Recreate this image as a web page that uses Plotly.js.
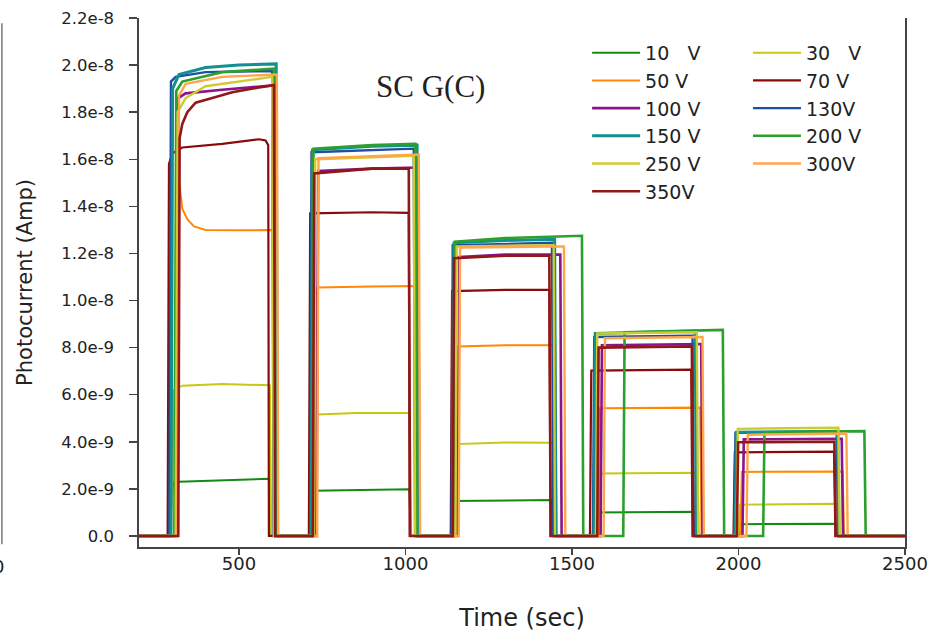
<!DOCTYPE html>
<html><head><meta charset="utf-8">
<script src="https://cdn.plot.ly/plotly-3.0.1.min.js"></script>
<style>html,body{margin:0;padding:0;background:#fff}#chart{width:930px;height:632px}</style>
</head><body><div id="chart"></div>
<script>
// Time (s) and photocurrent (nA, tick labels shown in Amp)
const t10 = [200,290,302,320,590,593, 718,722,1012,1016, 1140,1144,1440,1444, 1562,1566,1872,1876, 2003,2007,2298,2302, 2500];
const y10 = [0,0,2.25,2.3,2.43,0, 0,1.92,1.98,0, 0,1.48,1.53,0, 0,1.0,1.03,0, 0,0.5,0.52,0, 0];
const t30 = [200,296,305,330,450,593,597, 715,719,850,1013,1017, 1146,1150,1300,1443,1447, 1568,1572,1877,1881, 2000,2004,2297,2301, 2500];
const y30 = [0,0,6.2,6.38,6.45,6.4,0, 0,5.15,5.22,5.22,0, 0,3.9,3.97,3.96,0, 0,2.65,2.68,0, 0,1.33,1.37,0, 0];
const t50 = [200,310,316,322,330,345,365,400,500,612,616, 730,734,900,1033,1037, 1152,1156,1300,1450,1454, 1580,1584,1885,1889, 2006,2010,2313,2317, 2500];
const y50 = [0,0,15.6,14.8,13.9,13.45,13.15,13.0,12.98,13.0,0, 0,10.55,10.6,10.62,0, 0,8.05,8.1,8.1,0, 0,5.42,5.45,0, 0,2.72,2.74,0, 0];
const t70 = [200,286,290,300,330,450,560,580,588,590, 710,714,900,1010,1013, 1136,1140,1300,1432,1436, 1554,1558,1858,1862, 1985,1989,2287,2291, 2500];
const y70 = [0,0,15.8,16.25,16.5,16.65,16.85,16.8,16.6,0, 0,13.7,13.75,13.72,0, 0,10.4,10.45,10.45,0, 0,7.02,7.06,0, 0,3.55,3.58,0, 0];
const t100 = [200,312,318,340,450,560,610,614, 733,738,900,1038,1042, 1157,1162,1300,1465,1469, 1586,1590,1888,1892, 2012,2016,2310,2314, 2500];
const y100 = [0,0,18.6,18.8,18.95,19.1,19.15,0, 0,15.5,15.6,15.65,0, 0,11.85,11.95,11.95,0, 0,8.1,8.15,0, 0,4.1,4.13,0, 0];
const t130 = [200,291,296,310,400,600,604, 714,718,900,1025,1029, 1138,1142,1300,1440,1444, 1563,1567,1862,1866, 1987,1991,2295,2299, 2500];
const y130 = [0,0,19.3,19.5,19.7,19.75,0, 0,16.3,16.4,16.45,0, 0,12.35,12.4,12.45,0, 0,8.45,8.5,0, 0,4.38,4.4,0, 0];
const t150 = [200,296,301,320,400,500,612,616, 717,721,900,1035,1039, 1142,1146,1300,1448,1452, 1566,1570,1870,1874, 1990,1994,2298,2302, 2500];
const y150 = [0,0,19.0,19.6,19.9,20.0,20.05,0, 0,16.4,16.55,16.6,0, 0,12.45,12.55,12.6,0, 0,8.6,8.7,0, 0,4.4,4.45,0, 0];
const t200 = [200,306,312,330,450,605,609, 720,724,900,1030,1034, 1145,1149,1300,1530,1534, 1654,1658,1800,1953,1957, 2074,2078,2378,2382, 2500];
const y200 = [0,0,18.9,19.3,19.7,19.85,0, 0,16.45,16.6,16.65,0, 0,12.5,12.65,12.75,0, 0,8.65,8.7,8.75,0, 0,4.4,4.45,0, 0];
const t250 = [200,310,316,340,400,500,600,605, 725,729,1025,1029, 1150,1154,1445,1449, 1572,1576,1875,1879, 1994,1998,2300,2304, 2500];
const y250 = [0,0,18.0,18.6,19.1,19.3,19.5,0, 0,16.0,16.15,0, 0,12.3,12.35,0, 0,8.6,8.65,0, 0,4.55,4.6,0, 0];
const t300 = [200,314,320,340,450,600,614,618, 735,739,1040,1044, 1160,1164,1476,1480, 1595,1599,1892,1896, 2024,2028,2324,2328, 2500];
const y300 = [0,0,18.7,19.2,19.5,19.6,19.6,0, 0,16.05,16.2,0, 0,12.25,12.3,0, 0,8.4,8.45,0, 0,4.3,4.35,0, 0];
const t350 = [200,318,322,330,345,370,420,480,560,605,609, 722,726,900,1010,1014, 1142,1146,1300,1432,1436, 1576,1580,1860,1864, 1995,1999,2288,2292, 2500];
const y350 = [0,0,16.9,17.5,18.0,18.4,18.6,18.85,19.05,19.15,0, 0,15.4,15.6,15.6,0, 0,11.8,11.9,11.9,0, 0,8.0,8.05,0, 0,3.98,4.0,0, 0];

const seriesNames = ['10\u00a0\u00a0\u00a0V','30\u00a0\u00a0\u00a0V','50 V','70 V','100 V','130V','150 V','200 V','250 V','300V','350V'];
const seriesT = [t10,t30,t50,t70,t100,t130,t150,t200,t250,t300,t350];
const seriesY = [y10,y30,y50,y70,y100,y130,y150,y200,y250,y300,y350];
const seriesColors = ['#148a14','#c8c814','#ff8a00','#8a0a0a','#8a148a','#1f4fa0','#12908f','#2ca02c','#cccc30','#ffa54a','#901818'];
const seriesWidths = [2,2,2,2.2,2.6,2.4,3,2.6,2.4,2.4,2.6];
const seriesLegend = ['legend','legend2','legend','legend2','legend','legend2','legend','legend2','legend','legend2','legend'];

const xTickVals = [500,1000,1500,2000,2500];
const xTickText = ['500','1000','1500','2000','2500'];
const yTickVals = [0,2,4,6,8,10,12,14,16,18,20,22];
const yTickText = ['0.0','2.0e-9','4.0e-9','6.0e-9','8.0e-9','1.0e-8','1.2e-8','1.4e-8','1.6e-8','1.8e-8','2.0e-8','2.2e-8'];

const traces = seriesNames.map((n,i)=>({
  type:'scatter', mode:'lines', name:n, x:seriesT[i], y:seriesY[i],
  line:{color:seriesColors[i], width:seriesWidths[i]}, legend:seriesLegend[i], hoverinfo:'skip'
}));

const F = 'DejaVu Sans';
const legendCommon = {xanchor:'left', yanchor:'top', bgcolor:'rgba(0,0,0,0)', borderwidth:0,
  font:{family:F, size:19, color:'#222'}, itemwidth:48, tracegroupgap:0};

const layout = {
  width:930, height:632,
  margin:{l:139, r:25, t:18, b:85},
  paper_bgcolor:'#fff', plot_bgcolor:'#fff',
  showlegend:true,
  xaxis:{range:[200,2500], tickvals:xTickVals, ticktext:xTickText, ticks:'outside', ticklen:6, tickwidth:1.5, tickcolor:'#444',
    showline:true, linecolor:'#444', linewidth:1.6, showgrid:false, zeroline:false, ticklabelstandoff:-6,
    tickfont:{family:F, size:18, color:'#222'},
    title:{text:'Time (sec)', font:{family:F, size:24, color:'#222'}, standoff:38}},
  yaxis:{range:[-0.47,22], tickvals:yTickVals, ticktext:yTickText, ticks:'outside', ticklen:8, tickwidth:1.5, tickcolor:'#444',
    showline:true, mirror:true, linecolor:'#444', linewidth:1.6, showgrid:false, zeroline:false, ticklabelstandoff:12,
    tickfont:{family:F, size:16.5, color:'#222'},
    title:{text:'Photocurrent (Amp)', font:{family:F, size:21, color:'#222'}, standoff:23}},
  legend:Object.assign({x:0.585, y:0.97}, legendCommon),
  legend2:Object.assign({x:0.795, y:0.97}, legendCommon),
  annotations:[
    {xref:'paper', yref:'paper', x:0.38, y:0.871, yanchor:'middle', text:'SC G(C)', showarrow:false,
     font:{family:'Liberation Serif', size:31, color:'#222'}},
    {xref:'paper', yref:'paper', x:-0.173, y:-0.036, xanchor:'right', yanchor:'middle', text:'0', showarrow:false,
     font:{family:F, size:18, color:'#222'}}
  ],
  shapes:[
    {type:'line', xref:'paper', yref:'paper', x0:-0.179, x1:-0.179, y0:0.005, y1:0.99, line:{color:'#777', width:1.5}}
  ]
};

Plotly.newPlot('chart', traces, layout, {displayModeBar:false, staticPlot:true});
</script></body></html>
